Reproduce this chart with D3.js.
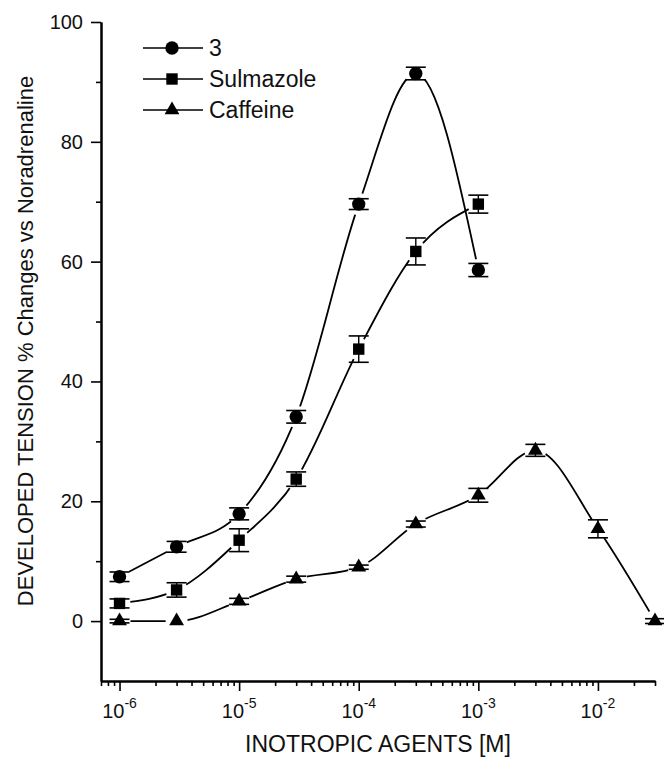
<!DOCTYPE html>
<html lang="en">
<head>
<meta charset="utf-8">
<title>Developed tension vs inotropic agents</title>
<script src="https://cdn.jsdelivr.net/npm/d3@7"></script>
<style>
  body { margin: 0; background: #fff; }
  svg { display: block; font-family: "Liberation Sans", Arial, sans-serif; }
</style>
</head>
<body>
<div id="chart"></div>
<script>
// concentrations (M)
var concShort = [1e-6, 3e-6, 1e-5, 3e-5, 1e-4, 3e-4, 1e-3];
var concLong  = [1e-6, 3e-6, 1e-5, 3e-5, 1e-4, 3e-4, 1e-3, 3e-3, 1e-2, 3e-2];

// % change values, with error bars
var compound3     = [7.4, 12.4, 17.9, 34.1, 69.6, 91.4, 58.6];
var compound3Err  = [0.8, 0.9, 1.0, 1.05, 0.9, 1.05, 1.1];
var sulmazole     = [2.95, 5.2, 13.5, 23.7, 45.4, 61.7, 69.6];
var sulmazoleErr  = [0.75, 1.2, 1.9, 1.2, 2.2, 2.25, 1.5];
var caffeine      = [0, 0, 3.3, 7.0, 9.0, 16.2, 21.0, 28.5, 15.4, 0];
var caffeineErr   = [0.3, 0, 0.5, 0.5, 0.35, 0.5, 1.15, 1.0, 1.5, 0.4];

var seriesNames = ["3", "Sulmazole", "Caffeine"];
var yMajor = [0, 20, 40, 60, 80, 100];
var yMinor = [10, 30, 50, 70, 90];
var xMajor = [1e-6, 1e-5, 1e-4, 1e-3, 1e-2];

var w = 664, h = 758;

var svg = d3.select("#chart").append("svg")
  .attr("width", w)
  .attr("height", h);

var x = d3.scaleLog().domain([7e-7, 3e-2]).range([101, 655]);
var y = d3.scaleLinear().domain([-10, 100]).range([681, 22]);

var series = [
  { name: seriesNames[0], xs: concShort, ys: compound3, err: compound3Err, shape: d3.symbolCircle, size: 140 },
  { name: seriesNames[1], xs: concShort, ys: sulmazole, err: sulmazoleErr, shape: d3.symbolSquare, size: 130 },
  { name: seriesNames[2], xs: concLong,  ys: caffeine,  err: caffeineErr,  shape: d3.symbolTriangle, size: 95 }
];

// mask so curves stop short of the markers
var mask = svg.append("defs").append("mask").attr("id", "gaps");
mask.append("rect").attr("width", w).attr("height", h).attr("fill", "white");
series.forEach(function(s) {
  s.xs.forEach(function(c, i) {
    mask.append("circle")
      .attr("cx", x(c)).attr("cy", y(s.ys[i])).attr("r", 11)
      .attr("fill", "black");
  });
});

// axes
svg.append("g")
  .attr("transform", "translate(0," + y(-10) + ")")
  .call(d3.axisBottom(x).tickValues(xMajor).tickSize(10).tickSizeOuter(0).tickFormat(""));

var minorX = [];
for (var e = -7; e <= -2; e++) {
  for (var m = 2; m <= 9; m++) {
    var v = m * Math.pow(10, e);
    if (v >= 7e-7 && v <= 3e-2) minorX.push(v);
  }
}
svg.append("g")
  .attr("transform", "translate(0," + y(-10) + ")")
  .call(d3.axisBottom(x).tickValues(minorX).tickSize(5).tickSizeOuter(0).tickFormat(""));

var yAxis = svg.append("g")
  .attr("transform", "translate(" + x(7e-7) + ",0)")
  .call(d3.axisLeft(y).tickValues(yMajor).tickSize(10).tickSizeOuter(0).tickPadding(8));
svg.append("g")
  .attr("transform", "translate(" + x(7e-7) + ",0)")
  .call(d3.axisLeft(y).tickValues(yMinor).tickSize(5).tickSizeOuter(0).tickFormat(""));

svg.selectAll(".domain").attr("stroke", "#000").attr("stroke-width", 2);
svg.selectAll(".tick line").attr("stroke", "#000").attr("stroke-width", 1.6);
yAxis.selectAll("text").attr("font-size", 20).attr("fill", "#111")
  .attr("font-family", "Liberation Sans, Arial, sans-serif");

// x tick labels as 10 with superscript exponent
xMajor.forEach(function(c) {
  var t = svg.append("text")
    .attr("x", x(c))
    .attr("y", 718)
    .attr("text-anchor", "middle")
    .attr("fill", "#111")
    .attr("font-size", 20);
  t.append("tspan").text("10");
  t.append("tspan").attr("dy", -10).attr("font-size", 14).text(Math.round(Math.log10(c)));
});

// axis titles
svg.append("text")
  .attr("x", 378)
  .attr("y", 752)
  .attr("text-anchor", "middle")
  .attr("font-size", 23)
  .attr("fill", "#111")
  .text("INOTROPIC AGENTS [M]");

svg.append("text")
  .attr("transform", "translate(33,341) rotate(-90)")
  .attr("text-anchor", "middle")
  .attr("font-size", 22)
  .attr("fill", "#111")
  .text("DEVELOPED TENSION % Changes vs Noradrenaline");

// curves
var line = d3.line()
  .x(function(d) { return x(d[0]); })
  .y(function(d) { return y(d[1]); })
  .curve(d3.curveMonotoneX);

var curves = svg.append("g").attr("mask", "url(#gaps)");
series.forEach(function(s) {
  curves.append("path")
    .datum(d3.zip(s.xs, s.ys))
    .attr("d", line)
    .attr("fill", "none")
    .attr("stroke", "#000")
    .attr("stroke-width", 1.8);
});

// error bars and markers
series.forEach(function(s) {
  var g = svg.append("g");
  s.xs.forEach(function(c, i) {
    var cx = x(c), top = y(s.ys[i] + s.err[i]), bot = y(s.ys[i] - s.err[i]);
    if (s.err[i] > 0) {
      g.append("line").attr("x1", cx).attr("x2", cx).attr("y1", top).attr("y2", bot)
        .attr("stroke", "#000").attr("stroke-width", 1.4);
      [top, bot].forEach(function(yy) {
        g.append("line").attr("x1", cx - 10).attr("x2", cx + 10).attr("y1", yy).attr("y2", yy)
          .attr("stroke", "#000").attr("stroke-width", 1.6);
      });
    }
    g.append("path")
      .attr("transform", "translate(" + cx + "," + y(s.ys[i]) + ")")
      .attr("d", d3.symbol().type(s.shape).size(s.size)())
      .attr("fill", "#000");
  });
});

// legend
var legend = svg.append("g");
series.forEach(function(s, i) {
  var ly = 48 + i * 31;
  legend.append("line").attr("x1", 143).attr("x2", 203).attr("y1", ly).attr("y2", ly)
    .attr("stroke", "#000").attr("stroke-width", 1.5);
  legend.append("path")
    .attr("transform", "translate(172," + ly + ")")
    .attr("d", d3.symbol().type(s.shape).size(s.size)())
    .attr("fill", "#000");
  legend.append("text")
    .attr("x", 209)
    .attr("y", ly + 8)
    .attr("font-size", 23)
    .attr("fill", "#111")
    .text(s.name);
});
</script>
</body>
</html>
